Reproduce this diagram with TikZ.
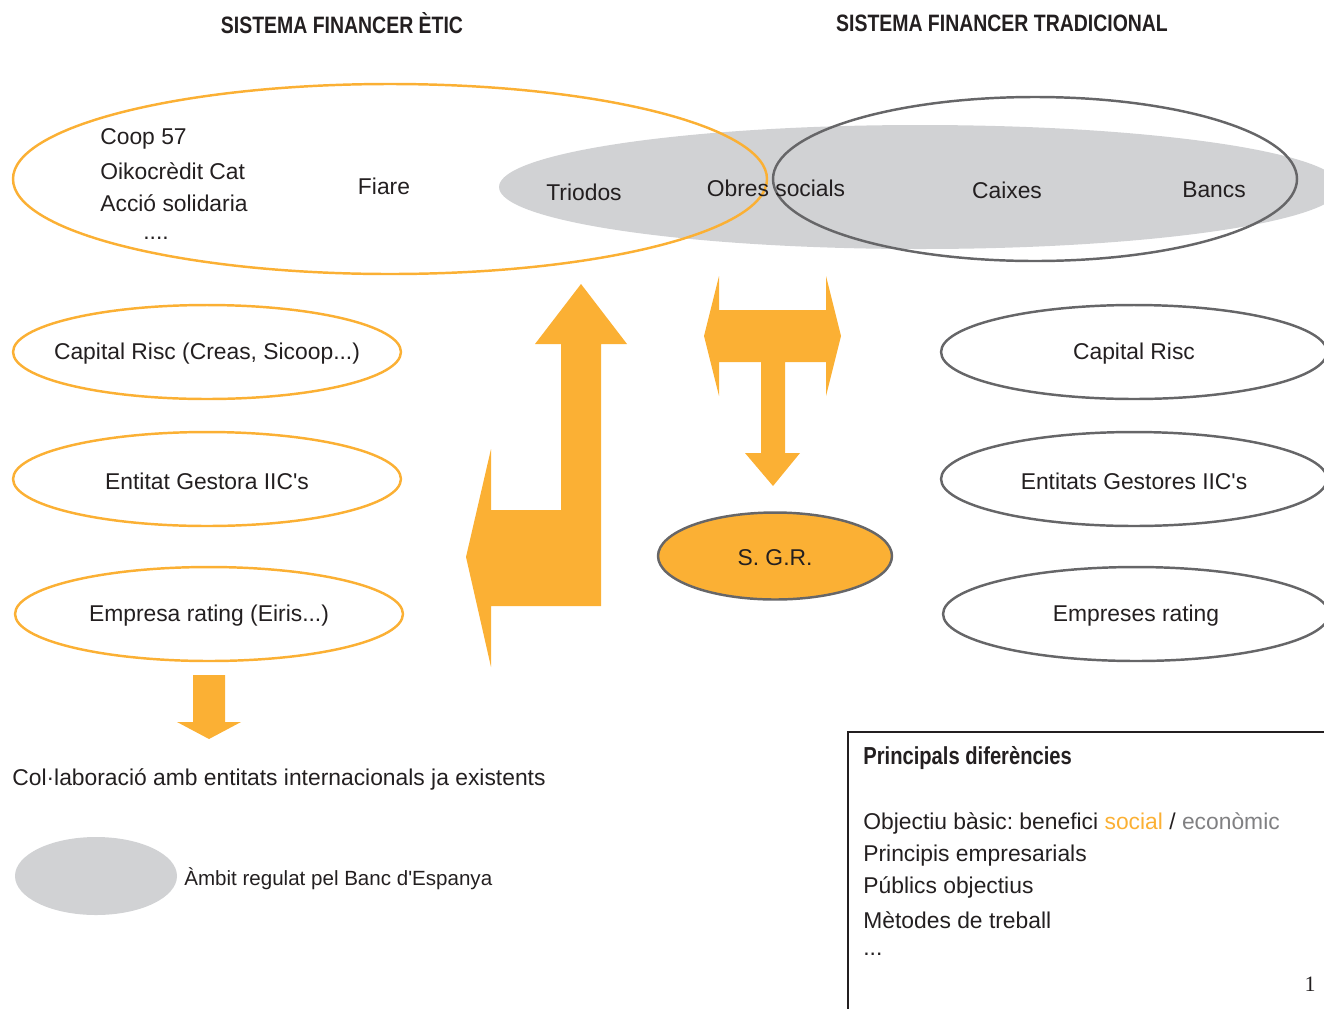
\documentclass[tikz,border=0pt]{standalone}
\usepackage{fontspec}
\setmainfont{Liberation Sans}
\newfontfamily\titlefont[FakeStretch=0.82]{Liberation Sans}
\newfontfamily\numfont{Liberation Serif}
\usetikzlibrary{shapes.geometric}
\definecolor{org}{RGB}{251,176,52}
\definecolor{dgrey}{RGB}{102,102,104}
\definecolor{lgrey}{RGB}{209,210,212}
\definecolor{txt}{RGB}{35,31,32}
\definecolor{midgrey}{RGB}{128,128,130}
\newcommand{\apos}{\textquotesingle}
\newcommand{\zw}[1]{\makebox[0pt]{\raisebox{-1.1pt}[\height][\depth]{#1}}}
\frenchspacing
\tikzset{
  txtnode/.style={font=\fontsize{13}{15}\selectfont, text=txt, inner sep=0pt},
  lbl/.style={txtnode, yshift=-1.1pt},
  ethic/.style={ellipse, draw=org, line width=1.4pt, inner sep=0pt},
  trad/.style={ellipse, draw=dgrey, line width=1.4pt, inner sep=0pt},
  titlestyle/.style={font=\titlefont\bfseries\fontsize{13.5}{16}\selectfont, text=txt, inner sep=0pt},
  arrowfill/.style={fill=org, draw=none},
}
\begin{document}
\begin{tikzpicture}[x=0.02cm,y=-0.02cm]
\useasboundingbox (0,0) rectangle (1324,1008);
\begin{scope}
\clip (0,0) rectangle (1324,1008);
% titles
\node[titlestyle] (t1) at (342,23) {SISTEMA FINANCER ÈTIC};
\node[titlestyle] (t2) at (1002,23) {SISTEMA FINANCER TRADICIONAL};
% top ellipses
\fill[lgrey] (920,187) ellipse [x radius=421, y radius=62];
\draw[org, line width=1.4pt] (390,179) ellipse [x radius=377, y radius=95];
\draw[dgrey, line width=1.4pt] (1035,179) ellipse [x radius=262, y radius=82];
\node[lbl, anchor=west] (coop) at (100,137) {Coop 57};
\node[lbl, anchor=west] (oiko) at (100,169) {Oikocrèdit Cat};
\node[lbl, anchor=west] (accio) at (100,201) {Acció solidaria};
\node[lbl, anchor=west] (dots) at (143,236) {....};
\node[lbl] (fiare) at (384,184) {Fiare};
\node[lbl] (triodos) at (584,190) {Triodos};
\node[lbl] (obres) at (776,186) {Obres socials};
\node[lbl] (caixes) at (1007,188) {Caixes};
\node[lbl] (bancs) at (1214,188) {Bancs};
% left ellipses
\node[ethic, txtnode, minimum width=7.76cm, minimum height=1.88cm] (cr1) at (207,352) {\zw{Capital Risc (Creas, Sicoop...)}};
\node[ethic, txtnode, minimum width=7.76cm, minimum height=1.88cm] (eg1) at (207,479) {\zw{Entitat Gestora IIC\apos s}};
\node[ethic, txtnode, minimum width=7.76cm, minimum height=1.88cm] (er1) at (209,614) {\zw{Empresa rating (Eiris...)}};
% right ellipses
\node[trad, txtnode, minimum width=7.72cm, minimum height=1.88cm] (cr2) at (1134,352) {\zw{Capital Risc}};
\node[trad, txtnode, minimum width=7.72cm, minimum height=1.88cm] (eg2) at (1134,479) {\zw{Entitats Gestores IIC\apos s}};
\node[trad, txtnode, minimum width=7.72cm, minimum height=1.88cm] (er2) at (1136,614) {\zw{Empreses rating}};
% SGR
\node[ellipse, fill=org, draw=dgrey, line width=1.4pt, txtnode, minimum width=4.68cm, minimum height=1.74cm] (sgr) at (775,556) {\zw{S. G.R.}};
% L arrow
\path[arrowfill] (581,284) -- (627,344) -- (601,344) -- (601,606) -- (491,606) -- (491,667) -- (466,557) -- (491,449) -- (491,510) -- (561,510) -- (561,344) -- (535,344) -- cycle;
% T arrow
\path[arrowfill] (704,336) -- (719,276) -- (719,310) -- (826,310) -- (826,276) -- (841,336) -- (826,396) -- (826,362) -- (785,362) -- (785,453) -- (800,453) -- (773,486) -- (745,453) -- (761,453) -- (761,362) -- (719,362) -- (719,396) -- cycle;
% small down arrow
\path[arrowfill] (193,675) -- (225,675) -- (225,722) -- (241,722) -- (209,739) -- (177,722) -- (193,722) -- cycle;
\node[lbl, anchor=west] (collab) at (12,778) {Col·laboració amb entitats internacionals ja existents};
% legend
\fill[lgrey] (96,876) ellipse [x radius=81, y radius=39];
\node[lbl, anchor=west, font=\fontsize{11.7}{14}\selectfont] (ambit) at (184,877) {Àmbit regulat pel Banc d\apos Espanya};
% box
\draw[txt, line width=1.4pt] (1340,732) -- (848,732) -- (848,1020);
\node[titlestyle, anchor=west, font=\titlefont\bfseries\fontsize{14}{16}\selectfont] (ph) at (863,758) {Principals diferències};
\node[lbl, anchor=west] (l1) at (863,822) {Objectiu bàsic: benefici \textcolor{org}{social} / \textcolor{midgrey}{econòmic}};
\node[lbl, anchor=west] (l2) at (863,854) {Principis empresarials};
\node[lbl, anchor=west] (l3) at (863,886) {Públics objectius};
\node[lbl, anchor=west] (l4) at (863,918) {Mètodes de treball};
\node[lbl, anchor=west] (l5) at (863,952) {...};
\node[lbl, font=\numfont\fontsize{12.5}{15}\selectfont] (pg) at (1310,982) {1};
\end{scope}
\end{tikzpicture}
\end{document}
